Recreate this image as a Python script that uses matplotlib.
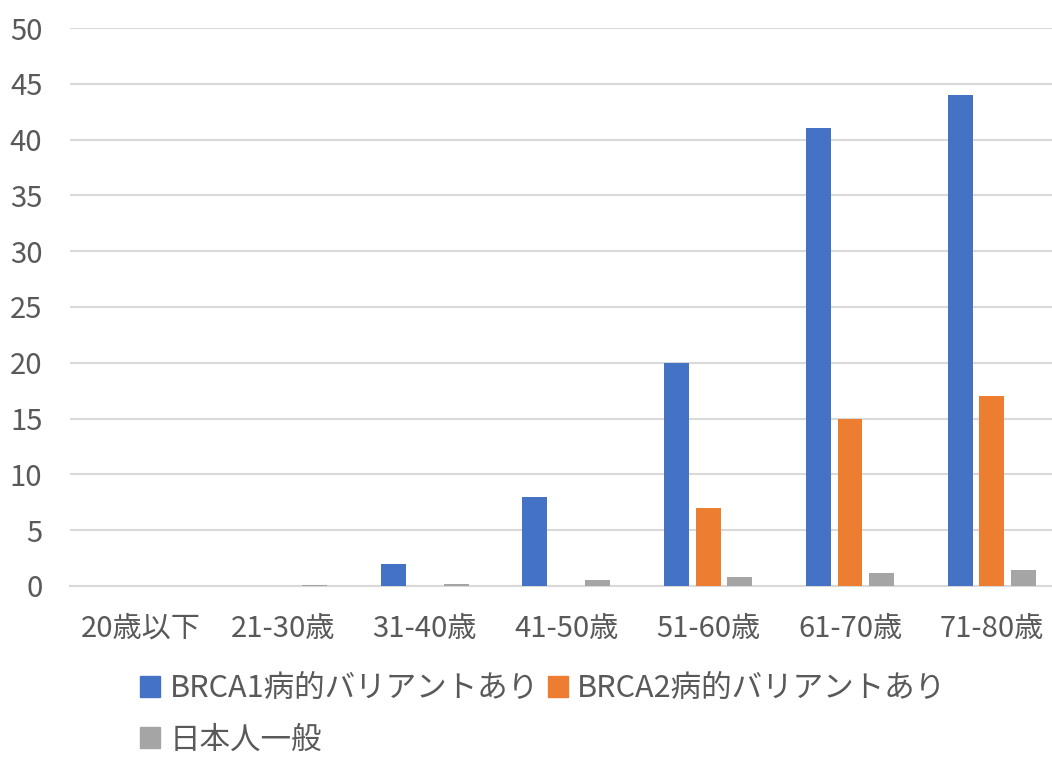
import matplotlib.pyplot as plt
import numpy as np
from matplotlib.patches import Patch

plt.rcParams['font.family'] = ['Noto Sans CJK JP', 'DejaVu Sans']

categories = ["20歳以下", "21-30歳", "31-40歳", "41-50歳", "51-60歳", "61-70歳", "71-80歳"]
brca1 = [0, 0, 2, 8, 20, 41, 44]
brca2 = [0, 0, 0, 0, 7, 15, 17]
general = [0, 0.05, 0.2, 0.5, 0.8, 1.2, 1.4]
series_names = ["BRCA1病的バリアントあり", "BRCA2病的バリアントあり", "日本人一般"]
colors = ["#4472c4", "#ed7d31", "#a5a5a5"]

fig = plt.figure(figsize=(10.52, 7.58), dpi=100)
# plot area runs a little past the right edge, as in the cropped original
ax = fig.add_axes([0.0666, 0.227, 0.9436, 0.736])

x = np.arange(len(categories))
w = 0.176
step = 0.222
for i, vals in enumerate([brca1, brca2, general]):
    ax.bar(x + (i - 1) * step, vals, width=w, color=colors[i], zorder=3)

ax.set_xlim(-0.5, len(categories) - 0.5)
ax.set_ylim(0, 50)
ax.set_yticks(range(0, 51, 5))
ax.set_xticks(x)
ax.set_xticklabels(categories)
ax.yaxis.grid(True, color="#d9d9d9", linewidth=1.5, zorder=0)
ax.tick_params(axis="both", length=0, labelsize=21, labelcolor="#595959")
ax.tick_params(axis="x", pad=20)
ax.tick_params(axis="y", pad=20)
for s in ["top", "right", "left"]:
    ax.spines[s].set_visible(False)
ax.spines["bottom"].set_color("#d9d9d9")
ax.spines["bottom"].set_linewidth(1.5)

# legend fills row by row in the original
order = [0, 2, 1]
handles = [Patch(color=colors[k]) for k in order]
labels = [series_names[k] for k in order]
fig.legend(handles, labels, loc="upper left", bbox_to_anchor=(0.116, 0.136),
           ncol=2, frameon=False, fontsize=22, labelcolor="#595959",
           handlelength=0.65, handleheight=0.65, handletextpad=0.3, columnspacing=0.3,
           labelspacing=0.66, borderaxespad=0.2)

fig.savefig("out.png", dpi=100)
